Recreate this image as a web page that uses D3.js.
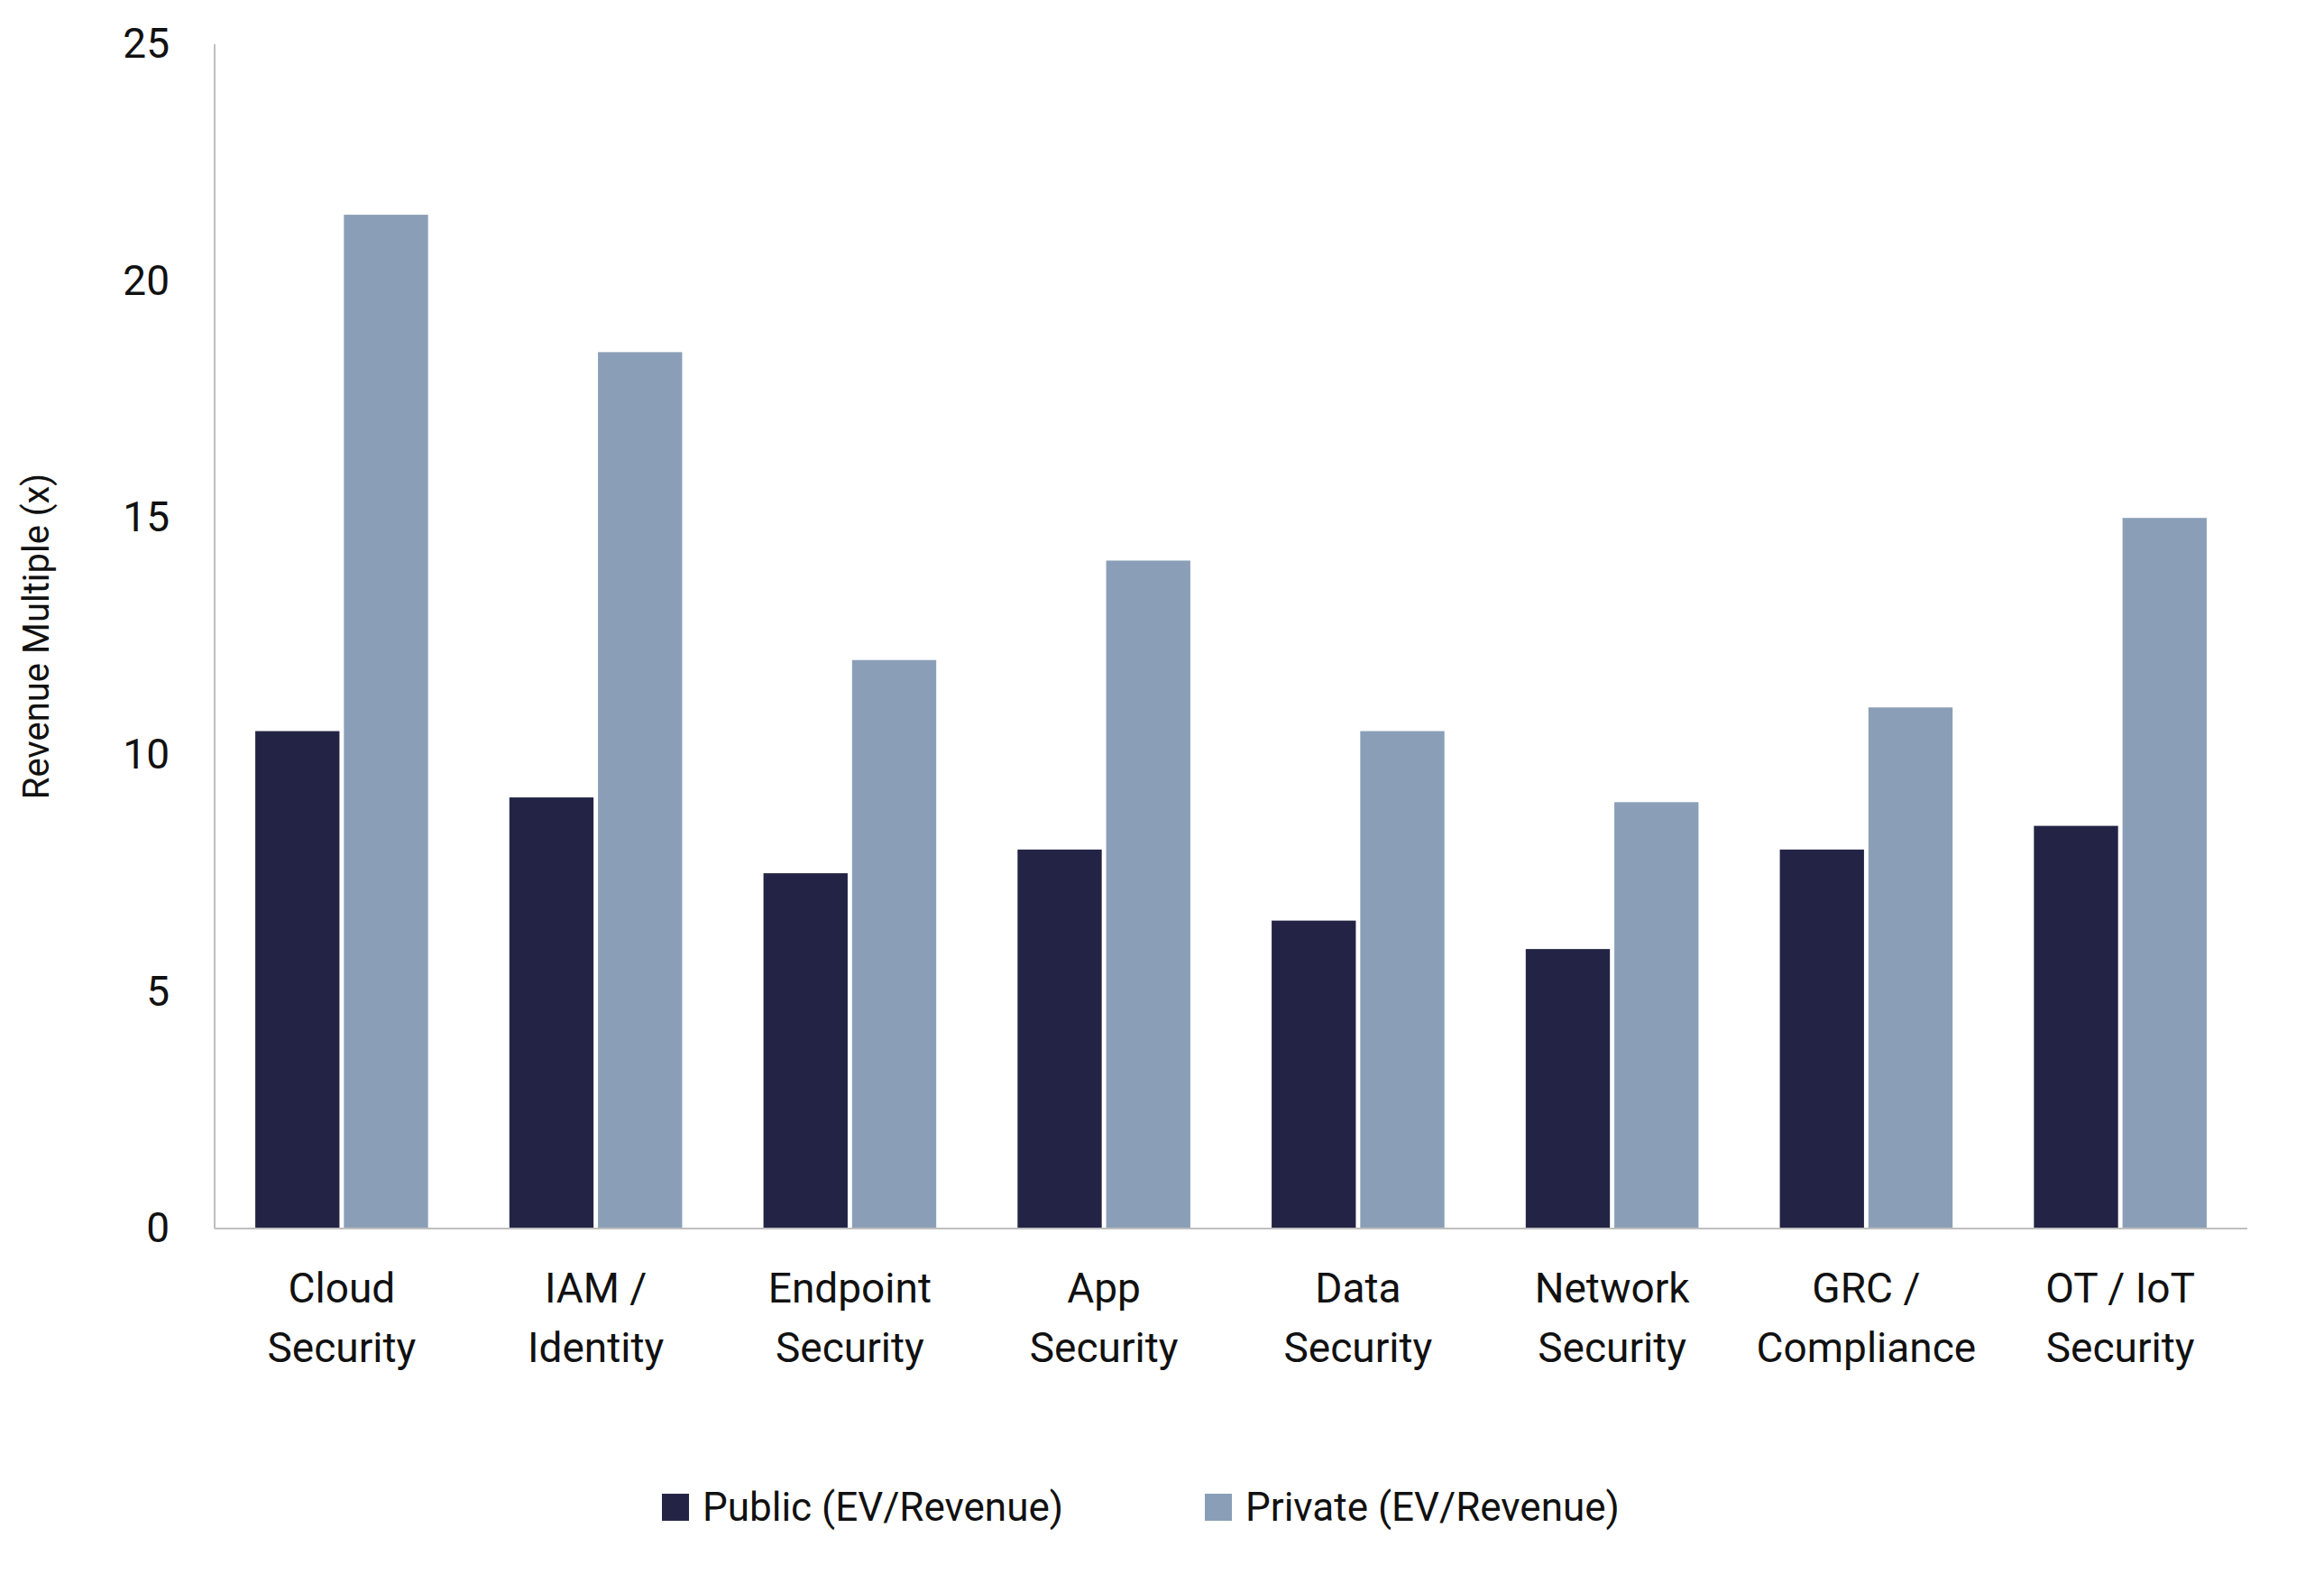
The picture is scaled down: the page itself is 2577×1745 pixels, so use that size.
<!DOCTYPE html>
<html><head><meta charset="utf-8">
<script src="https://cdn.jsdelivr.net/npm/d3@7"></script>
<style>body{margin:0;background:#fff}svg{font-family:Roboto,"Noto Sans",sans-serif}</style>
</head><body><div id="chart"></div>
<script>
var categories = [['Cloud','Security'],['IAM /','Identity'],['Endpoint','Security'],['App','Security'],['Data','Security'],['Network','Security'],['GRC /','Compliance'],['OT / IoT','Security']]
var publicValues = [10.5, 9.1, 7.5, 8, 6.5, 5.9, 8, 8.5]
var privateValues = [21.4, 18.5, 12, 14.1, 10.5, 9, 11, 15]
var seriesNames = ['Public (EV/Revenue)', 'Private (EV/Revenue)']
var colors = ['#232445', '#8a9fb7']
var yTicks = [0, 5, 10, 15, 20, 25]

var width = 2577, height = 1745
var margin = { top: 49, left: 238, right: 85, bottom: 383 }
var svg = d3.select('#chart').append('svg').attr('width', width).attr('height', height)

var x = d3.scaleBand().domain(d3.range(categories.length))
  .range([margin.left, width - margin.right]).paddingInner(0.32).paddingOuter(0.16)
var y = d3.scaleLinear().domain([0, 25]).range([height - margin.bottom, margin.top])
var sub = d3.scaleBand().domain([0, 1]).range([0, x.bandwidth()]).paddingInner(0.05)

// axis lines
svg.append('line').attr('x1', margin.left).attr('x2', margin.left)
  .attr('y1', y(25)).attr('y2', y(0)).attr('stroke', '#bfbfbf').attr('stroke-width', 2)

var groups = svg.selectAll('.grp').data(categories).enter().append('g')
  .attr('transform', (d, i) => 'translate(' + x(i) + ',0)')
groups.append('rect').attr('x', sub(0)).attr('width', sub.bandwidth())
  .attr('y', (d, i) => y(publicValues[i])).attr('height', (d, i) => y(0) - y(publicValues[i]))
  .attr('fill', colors[0])
groups.append('rect').attr('x', sub(1)).attr('width', sub.bandwidth())
  .attr('y', (d, i) => y(privateValues[i])).attr('height', (d, i) => y(0) - y(privateValues[i]))
  .attr('fill', colors[1])
groups.selectAll('.lbl').data(d => d).enter().append('text')
  .attr('x', x.bandwidth() / 2).attr('y', (d, j) => y(0) + 82 + j * 66)
  .attr('text-anchor', 'middle').attr('font-size', 46).attr('fill', '#111').text(d => d)

svg.append('line').attr('x1', margin.left).attr('x2', width - margin.right)
  .attr('y1', y(0)).attr('y2', y(0)).attr('stroke', '#bfbfbf').attr('stroke-width', 2)

var yAxis = svg.append('g').attr('transform', 'translate(' + margin.left + ',0)')
  .call(d3.axisLeft(y).tickValues(yTicks).tickSize(0).tickPadding(50))
yAxis.select('.domain').remove()
yAxis.selectAll('text').attr('font-size', 46).attr('fill', '#111').attr('font-family', 'Roboto,sans-serif')

svg.append('text').attr('transform', 'translate(54,' + ((y(0) + y(25)) / 2) + ') rotate(-90)')
  .attr('text-anchor', 'middle').attr('font-size', 40).attr('fill', '#111').text('Revenue Multiple (x)')

var legendX = [734, 1336]
var leg = svg.selectAll('.leg').data(seriesNames).enter().append('g')
  .attr('transform', (d, i) => 'translate(' + legendX[i] + ',1671)')
leg.append('rect').attr('y', -15).attr('width', 30).attr('height', 30).attr('fill', (d, i) => colors[i])
leg.append('text').attr('x', 45).attr('dy', '0.35em').attr('font-size', 44).attr('fill', '#111').text(d => d)
</script></body></html>
